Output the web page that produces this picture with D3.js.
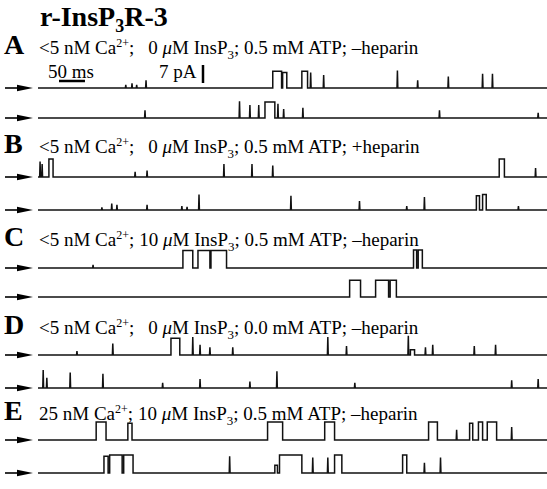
<!DOCTYPE html>
<html>
<head>
<meta charset="utf-8">
<script src="https://cdn.jsdelivr.net/npm/d3@7"></script>
<style>
  body { margin: 0; background: #fff; }
  svg { display: block; }
  text { font-family: "Liberation Serif", "Times New Roman", serif; fill: #000; }
</style>
</head>
<body>
<div id="chart"></div>
<script>
// conditions for each panel
const panelLetters = ["A", "B", "C", "D", "E"];
const caLabels = ["<5", "<5", "<5", "<5", "25"];
const insp3Labels = ["0", "0", "10", "0", "10"];
const atpLabels = ["0.5", "0.5", "0.5", "0.0", "0.5"];
const heparinLabels = ["\u2013heparin", "+heparin", "\u2013heparin", "\u2013heparin", "\u2013heparin"];

// openings: [start ms, end ms, pA]  spikes: [ms, pA]
const a1Open = [[452,469,6.5],[471,479,6],[508,519,6.5]];
const a1Spike = [[169,1.2],[181,1.8],[190,1.2],[208,3],[525,6],[550,5],[692,6.8],[731,3],[790,4.5],[856,5.5],[875,5.5]];
const a2Open = [[437,456,6.2]];
const a2Spike = [[206,3],[388,6.5],[408,5],[425,5],[462,5.5],[473,3.5],[510,4],[773,3],[963,2]];
const b1Open = [[21,29,7],[888,898,7]];
const b1Spike = [[4,6],[8,5],[187,2],[210,2.5],[358,5],[412,5],[452,4.5],[958,3.5]];
const b2Open = [[844,850,5.5],[856,863,6]];
const b2Spike = [[123,1],[142,2.5],[152,2],[210,2],[277,1.5],[287,1.2],[310,6],[487,5.5],[619,3.5],[710,1.5],[744,5],[925,1.5]];
const c1Open = [[279,298,6.8],[308,331,6.8],[333,363,6.8],[723,729,7],[732,740,7]];
const c1Spike = [[106,1.2]];
const c2Open = [[600,621,6.5],[650,675,6.5],[678,690,6.5]];
const c2Spike = [];
const d1Open = [[256,273,6.5],[717,725,2]];
const d1Spike = [[75,1.5],[144,4.5],[298,7],[312,4],[331,3],[375,3],[558,7],[594,3.5],[713,7.5],[746,3],[760,4],[840,3.5],[881,4]];
const d2Open = [];
const d2Spike = [[10,7],[17,4],[62,6],[125,5.5],[240,2],[312,3.5],[408,2.5],[460,6.5],[610,2],[912,3],[963,3.5]];
const e1Open = [[112,131,7],[173,181,6.5],[442,471,7],[552,571,7],[752,769,7],[831,837,6.5],[848,856,7],[865,883,7]];
const e1Spike = [[806,4],[912,5]];
const e2Open = [[127,135,6.5],[138,162,7],[165,183,7],[456,461,3],[465,508,7],[571,585,7],[702,710,7]];
const e2Spike = [[369,6.5],[529,6],[558,6],[744,4],[775,6]];

const traces = [
  [a1Open, a1Spike], [a2Open, a2Spike],
  [b1Open, b1Spike], [b2Open, b2Spike],
  [c1Open, c1Spike], [c2Open, c2Spike],
  [d1Open, d1Spike], [d2Open, d2Spike],
  [e1Open, e1Spike], [e2Open, e2Spike]
];

// layout
const width = 547, height = 489;
const traceY = [88, 118, 177, 210, 268, 297, 355, 388, 440, 473];
const labelY = [54, 153, 246, 334, 420];

const x = d3.scaleLinear().domain([0, 980]).range([38, 547]);
const amp = d3.scaleLinear().domain([0, 7]).range([0, 18]);

const svg = d3.select("#chart").append("svg")
  .attr("width", width)
  .attr("height", height);

// title
const title = svg.append("text")
  .attr("x", 40).attr("y", 26)
  .attr("font-size", 28).attr("font-weight", "bold");
title.append("tspan").text("r-InsP");
title.append("tspan").attr("dy", 6).attr("font-size", 18).text("3");
title.append("tspan").attr("dy", -6).text("R-3");

// panel labels
panelLetters.forEach(function(letter, i){
  svg.append("text")
    .attr("x", 4).attr("y", labelY[i])
    .attr("font-size", 28).attr("font-weight", "bold")
    .text(letter);

  const t = svg.append("text")
    .attr("x", 39).attr("y", labelY[i])
    .attr("font-size", 19);
  t.append("tspan").text(caLabels[i] + " nM Ca");
  t.append("tspan").attr("dy", -7).attr("font-size", 12).text("2+");
  t.append("tspan").attr("dy", 7).text(";");
  t.append("tspan").attr("dx", insp3Labels[i].length < 2 ? 14 : 5).text(insp3Labels[i] + " ");
  t.append("tspan").attr("font-style", "italic").text("\u03bc");
  t.append("tspan").text("M InsP");
  t.append("tspan").attr("dy", 5).attr("font-size", 13).text("3");
  t.append("tspan").attr("dy", -5).text("; " + atpLabels[i] + " mM ATP; " + heparinLabels[i]);
});

// scale bars
const barX = 59, barY = 81;
svg.append("text").attr("x", 48).attr("y", 78).attr("font-size", 19).text("50 ms");
svg.append("line")
  .attr("x1", barX).attr("x2", barX + x(50) - x(0))
  .attr("y1", barY).attr("y2", barY)
  .attr("stroke", "#000").attr("stroke-width", 2.5);
svg.append("text").attr("x", 159).attr("y", 78).attr("font-size", 19).text("7 pA");
svg.append("line")
  .attr("x1", 203).attr("x2", 203)
  .attr("y1", 83).attr("y2", 83 - amp(7))
  .attr("stroke", "#000").attr("stroke-width", 2.5);

// build step path points from openings and spikes
function tracePoints(open, spike){
  let pts = [];
  open.forEach(function(o){
    pts.push({t: o[0], a: 0, k: o[0]});
    pts.push({t: o[0], a: o[2], k: o[0] + 0.001});
    pts.push({t: o[1], a: o[2], k: o[1] - 0.001});
    pts.push({t: o[1], a: 0, k: o[1]});
  });
  spike.forEach(function(s){
    pts.push({t: s[0] - 0.8, a: 0, k: s[0] - 0.8});
    pts.push({t: s[0], a: s[1], k: s[0]});
    pts.push({t: s[0] + 0.8, a: 0, k: s[0] + 0.8});
  });
  pts.push({t: 0, a: 0, k: -1});
  pts.push({t: 980, a: 0, k: 981});
  pts.sort(function(p, q){ return p.k - q.k; });
  return pts;
}

traces.forEach(function(tr, i){
  const base = traceY[i];
  const line = d3.line()
    .x(function(d){ return x(d.t); })
    .y(function(d){ return base - amp(d.a); });

  svg.append("path")
    .datum(tracePoints(tr[0], tr[1]))
    .attr("d", line)
    .attr("fill", "none")
    .attr("stroke", "#111")
    .attr("stroke-width", 1.5)
    .attr("stroke-linejoin", "miter");

  // arrow marking the closed level
  svg.append("line")
    .attr("x1", 5).attr("x2", 20)
    .attr("y1", base).attr("y2", base)
    .attr("stroke", "#000").attr("stroke-width", 1.6);
  svg.append("path")
    .attr("d", "M17," + (base - 3.2) + "L33," + base + "L17," + (base + 3.2) + "Z")
    .attr("fill", "#000");
});
</script>
</body>
</html>
